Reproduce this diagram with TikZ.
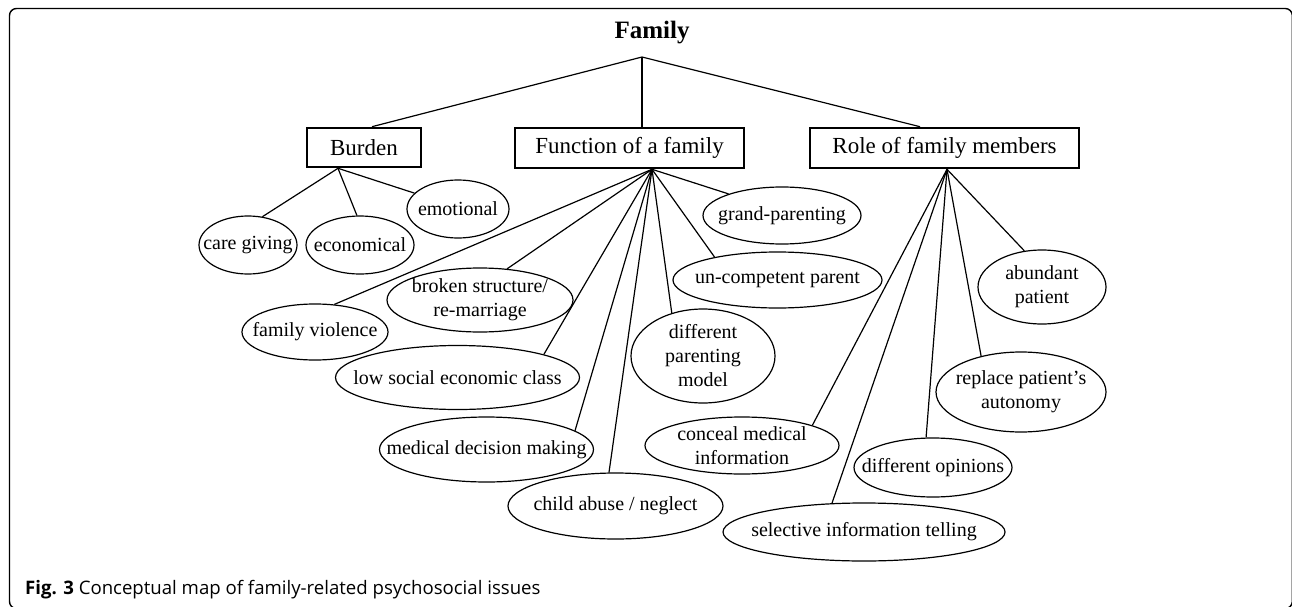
\documentclass[tikz,border=0pt]{standalone}
\usepackage{fontspec}
\setmainfont{Liberation Serif}
\newfontfamily\capfont{Open Sans}
\usetikzlibrary{shapes.geometric,calc}
\tikzset{
  box/.style={draw, line width=2.6pt, inner sep=0pt, font=\fontsize{23}{27}\selectfont},
  ell/.style n args={2}{ellipse, draw, line width=1.2pt, minimum width=#1pt, minimum height=#2pt, inner sep=0pt},
  etxt/.style={inner sep=0pt, align=center, font=\fontsize{20}{24}\selectfont},
  conn/.style={line width=1.2pt},
}
\begin{document}
\begin{tikzpicture}[x=1pt,y=-1pt]
\useasboundingbox (0,0) rectangle (1292,607);
\draw[line width=1.4pt, rounded corners=7pt] (9.5,8.5) rectangle (1292.3,608.5);

\node[font=\bfseries\fontsize{25}{30}\selectfont, inner sep=0pt] (fam) at (652,33) {Family};
\coordinate (apex) at (642,57);

\node[box, minimum width=114pt, minimum height=39pt] (burden) at (364,147.5) {Burden};
\node[box, minimum width=229pt, minimum height=40pt] (func) at (629.5,148) {Function of a family};
\node[box, minimum width=269pt, minimum height=40pt] (role) at (944.5,148) {Role of family members};

\coordinate (bB) at ($(burden.south)+(-26,0)$);
\coordinate (bF) at ($(func.south)+(22.5,0)$);
\coordinate (bR) at ($(role.south)+(2.5,0)$);

\draw[conn] (apex) -- ($(burden.north)+(8,0)$);
\draw[conn] (apex) -- ($(func.north)+(12.5,0)$);
\draw[conn] (apex) -- ($(role.north)+(-24.5,0)$);

% Burden
\node[ell={98}{58}] (cg) at (248,245) {};
\node[etxt] (cg-t) at (cg) {care giving};
\node[ell={108}{58}] (eco) at (360,245) {};
\node[etxt] (eco-t) at (eco) {economical};
\node[ell={102}{58}] (emo) at (458,209) {};
\node[etxt] (emo-t) at (emo) {emotional};

% Function
\node[ell={158}{57}] (grand) at (782,215.5) {};
\node[etxt] (grand-t) at (grand) {grand-parenting};
\node[ell={209}{56}] (uncomp) at (777.5,280) {};
\node[etxt] (uncomp-t) at (uncomp) {un-competent parent};
\node[ell={186}{64}] (broken) at (480,300) {};
\node[etxt] (broken-t) at (broken) {broken structure/\\re-marriage};
\node[ell={146}{56}] (famv) at (315,332) {};
\node[etxt] (famv-t) at (famv) {family violence};
\node[ell={244}{64}] (lowsoc) at (457.5,377.5) {};
\node[etxt] (lowsoc-t) at (lowsoc) {low social economic class};
\node[ell={214}{65}] (meddec) at (486.5,449.5) {};
\node[etxt] (meddec-t) at (meddec) {medical decision making};
\node[ell={215}{66}] (child) at (615.5,506) {};
\node[etxt] (child-t) at (child) {child abuse / neglect};
\node[ell={144}{94}] (diffpar) at (703,356) {};
\node[etxt] (diffpar-t) at (diffpar) {different\\parenting\\model};

% Role
\node[ell={194}{57}] (conceal) at (742,445.5) {};
\node[etxt] (conceal-t) at (conceal) {conceal medical\\information};
\node[ell={282}{58}] (select) at (864,532) {};
\node[etxt] (select-t) at (select) {selective information telling};
\node[ell={158}{59}] (diffop) at (933,467.5) {};
\node[etxt] (diffop-t) at (diffop) {different opinions};
\node[ell={170}{80}] (replace) at (1021,392) {};
\node[etxt] (replace-t) at (replace) {replace patient’s\\autonomy};
\node[ell={128}{74}] (abund) at (1042,287) {};
\node[etxt] (abund-t) at (abund) {abundant\\patient};

% connectors
\draw[conn] (bB) -- (cg.63);
\draw[conn] (bB) -- (eco.96);
\draw[conn] (bB) -- (emo.160);

\draw[conn] (bF) -- (grand.158);
\draw[conn] (bF) -- (uncomp.160);
\draw[conn] (bF) -- (diffpar.126);
\draw[conn] (bF) -- (child.101);
\draw[conn] (bF) -- (meddec.12);
\draw[conn] (bF) -- (lowsoc.15);
\draw[conn] (bF) -- (broken.49);
\draw[conn] (bF) -- (famv.55);

\draw[conn] (bR) -- (conceal.16.5);
\draw[conn] (bR) -- (select.138);
\draw[conn] (bR) -- (diffop.103);
\draw[conn] (bR) -- (replace.138);
\draw[conn] (bR) -- (abund.116);

\node[anchor=base west, inner sep=0pt, font=\capfont\fontsize{18.6}{22}\selectfont] (cap) at (25,594) {\textbf{Fig. 3} Conceptual map of family-related psychosocial issues};
\end{tikzpicture}
\end{document}
